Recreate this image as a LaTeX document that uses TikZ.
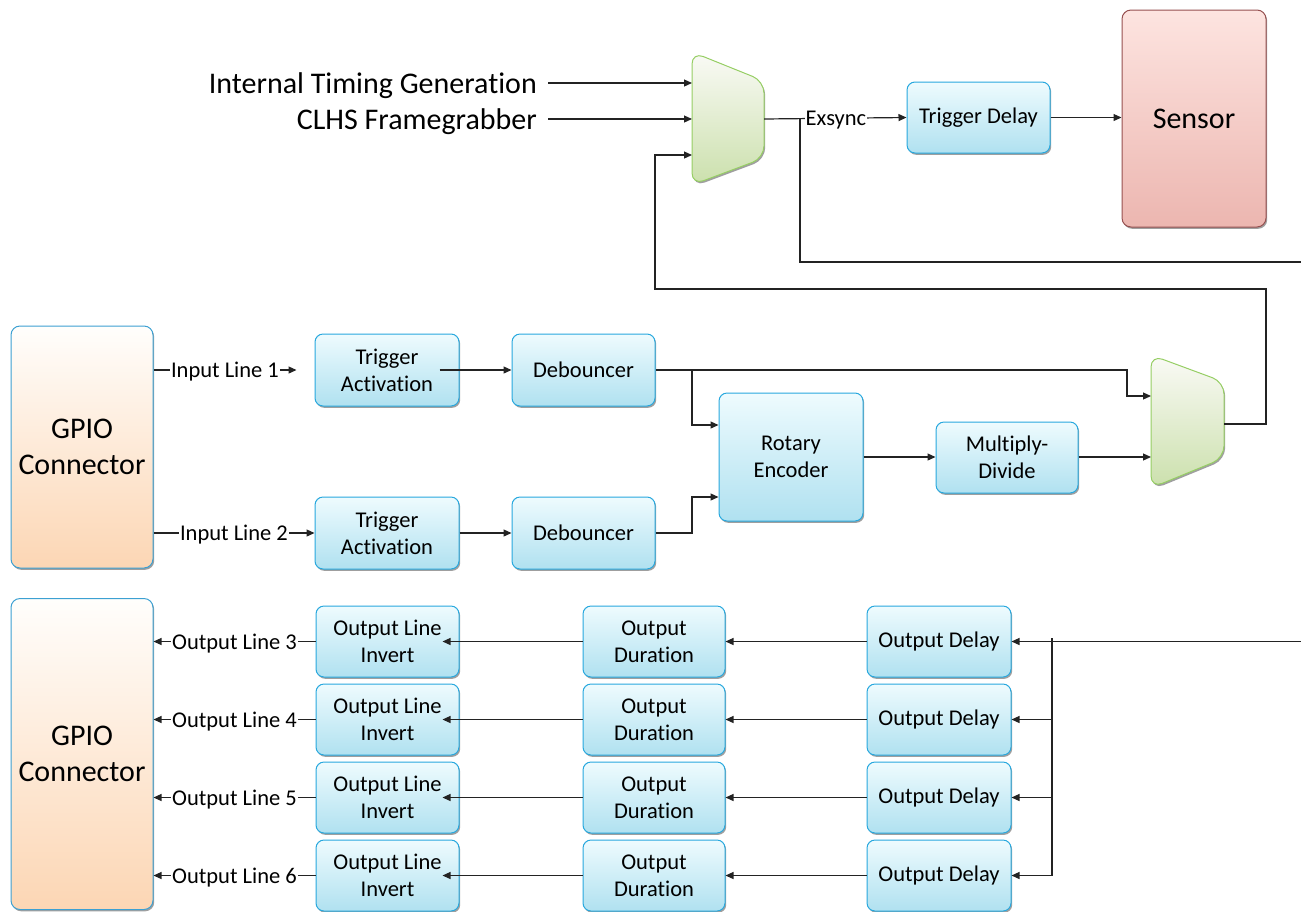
\documentclass[tikz,border=0pt]{standalone}
\usepackage{fontspec}
\setmainfont{Carlito}[Ligatures=NoCommon]
\usetikzlibrary{arrows.meta,shadows,calc}
\definecolor{boxtop}{RGB}{238,251,254}
\definecolor{boxbot}{RGB}{176,225,240}
\definecolor{boxline}{RGB}{40,168,222}
\definecolor{gpiotop}{RGB}{255,254,252}
\definecolor{gpiobot}{RGB}{252,214,180}
\definecolor{gpioline}{RGB}{60,160,210}
\definecolor{sentop}{RGB}{253,228,224}
\definecolor{senbot}{RGB}{236,182,176}
\definecolor{senline}{RGB}{150,80,80}
\definecolor{muxtop}{RGB}{250,250,246}
\definecolor{muxbot}{RGB}{203,224,172}
\definecolor{muxline}{RGB}{150,206,100}
\definecolor{linec}{RGB}{35,35,35}
\begin{document}
\begin{tikzpicture}[x=1pt,y=-1pt,
  shad/.style={drop shadow={opacity=0.5,shadow xshift=1.2pt,shadow yshift=-1.8pt,fill=black!75}},
  blk/.style={draw=boxline,line width=1pt,rounded corners=8pt,top color=boxtop,bottom color=boxbot,
    minimum width=143pt,minimum height=71pt,align=center,inner sep=0pt,
    font=\fontsize{22.5}{27}\selectfont,shad},
  gpio/.style={draw=gpioline,line width=1pt,rounded corners=9pt,top color=gpiotop,bottom color=gpiobot,
    minimum width=142pt,align=center,inner sep=0pt,font=\fontsize{30}{36.5}\selectfont,shad},
  sens/.style={draw=senline,line width=1pt,rounded corners=9pt,top color=sentop,bottom color=senbot,
    minimum width=144pt,minimum height=217pt,align=center,inner sep=0pt,font=\fontsize{30}{36}\selectfont,shad},
  muxst/.style={draw=muxline,line width=1pt,rounded corners=12pt,top color=muxtop,bottom color=muxbot,shad},
  big/.style={font=\fontsize{30}{36}\selectfont,inner sep=3pt,yshift=-2.5pt},
  lab/.style={fill=white,inner sep=1pt,font=\fontsize{22.5}{26}\selectfont,yshift=-2pt},
  arr/.style={draw=linec,line width=1.2pt,-{Triangle[length=8pt,width=7pt]}},
  ln/.style={draw=linec,line width=1.2pt}
]
\useasboundingbox (0,0) rectangle (1301,911);

% ---------- top part ----------
\draw[muxst] (692,52) -- (764,81) -- (764,158) -- (692,185) -- cycle;
\coordinate (m1a) at (692,83);
\coordinate (m1b) at (692,119);
\coordinate (m1c) at (692,155);
\coordinate (m1o) at (764,119);

\node[big,anchor=east] (itg) at (540,83) {Internal Timing Generation};
\node[big,anchor=east] (clhs) at (540,119) {CLHS Framegrabber};
\draw[arr] ([xshift=8pt,yshift=2.5pt]itg.east) -- (m1a);
\draw[arr] ([xshift=8pt,yshift=2.5pt]clhs.east) -- (m1b);

\node[blk] (td) at (978.5,117.5) {Trigger Delay};
\node[sens] (sensor) at (1194,118.5) {Sensor};

\draw[arr] (m1o) -- (td.west) node[lab,pos=0.505] {Exsync};
\draw[arr] (td.east) -- (td.east -| sensor.west);

\coordinate (exj) at (800,119);
\coordinate (exout) at (1301,262);
\draw[ln] (exj) |- (exout);

% ---------- middle part ----------
\node[gpio,minimum height=242pt] (gpio1) at (82,447) {GPIO\\Connector};

\node[blk,minimum width=144pt,minimum height=72pt] (ta1) at (387,370) {Trigger\\Activation};
\node[blk,minimum height=72pt] (deb1) at (583.5,370) {Debouncer};
\node[blk,minimum width=144pt,minimum height=72pt] (ta2) at (387,533) {Trigger\\Activation};
\node[blk,minimum height=72pt] (deb2) at (583.5,533) {Debouncer};
\node[blk,minimum width=144pt,minimum height=128pt] (rot) at (791,457) {Rotary\\Encoder};
\node[blk,minimum width=142pt] (md) at (1007,457.5) {Multiply-\\Divide};

\draw[muxst] (1151,355) -- (1224,382) -- (1224,458) -- (1151,488) -- cycle;
\coordinate (m2a) at (1151,396);
\coordinate (m2b) at (1151,457);
\coordinate (m2o) at (1224,424);

\draw[arr] (gpio1.east |- ta1.west) -- ([xshift=-18pt]ta1.west) node[lab,midway] {Input Line 1};
\draw[arr] (gpio1.east |- ta2.west) -- (ta2.west) node[lab,midway] {Input Line 2};
\draw[arr] ([xshift=-20pt]ta1.east) -- (deb1.west);
\draw[arr] (ta2.east) -- (deb2.west);

\coordinate (br) at (692,370);
\coordinate (mj) at (1127,370);
\draw[arr] (deb1.east) -- (mj) |- (m2a);
\draw[arr] (br) |- ([yshift=32pt]rot.west);
\draw[arr] (deb2.east) -| (br |- rot.south) |- ([yshift=-40pt]rot.west);
\draw[arr] (rot.east) -- (rot.east -| md.west);
\draw[arr] (md.east |- m2b) -- (m2b);

\coordinate (fb1) at (1266,289);
\coordinate (fb2) at (655,289);
\draw[arr] (m2o) -| (fb1) -- (fb2) |- (m1c);

% ---------- bottom part ----------
\node[gpio,minimum height=311pt] (gpio2) at (82,754) {GPIO\\Connector};

\foreach \i/\y in {3/641.5,4/719.5,5/797.5,6/875.5}{
  \node[blk] (inv\i) at (387.5,\y) {Output Line\\Invert};
  \node[blk,minimum width=142pt] (dur\i) at (654,\y) {Output\\Duration};
  \node[blk,minimum width=144pt] (od\i) at (939,\y) {Output Delay};
  \draw[arr] (od\i.west) -- (dur\i.east);
  \draw[arr] (dur\i.west) -- ([xshift=-17pt]inv\i.east);
  \draw[arr] (inv\i.west) -- (gpio2.east |- inv\i.west) node[lab,midway] {Output Line \i};
}

\coordinate (outin) at (1301,641.5);
\coordinate (bus) at (1052,638);
\draw[arr] (outin) -- (od3.east);
\draw[ln] (bus) -- (bus |- od6.east);
\foreach \i in {4,5,6}{
  \draw[arr] (bus |- od\i.east) -- (od\i.east);
}
\end{tikzpicture}
\end{document}
